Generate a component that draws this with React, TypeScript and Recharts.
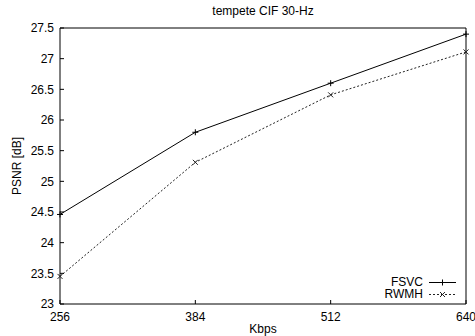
import { LineChart, Line, XAxis, YAxis } from "recharts";

const rates = [256, 384, 512, 640];
const fsvc = [24.46, 25.8, 26.6, 27.4];
const rwmh = [23.45, 25.31, 26.41, 27.11];
const yTicks = [23, 23.5, 24, 24.5, 25, 25.5, 26, 26.5, 27, 27.5];

const data = rates.map((r, i) => ({ rate: r, FSVC: fsvc[i], RWMH: rwmh[i] }));

const FONT = "'Liberation Sans', Arial, Helvetica, sans-serif";
const tick = { fontSize: 12, fill: "#000", fontFamily: FONT };

const Plus = (p: any) => (
  <path
    key={`p${p.index}`}
    d={`M${p.cx - 3},${p.cy}H${p.cx + 3}M${p.cx},${p.cy - 3}V${p.cy + 3}`}
    stroke="#000"
    strokeWidth={1}
  />
);

const Cross = (p: any) => (
  <path
    key={`x${p.index}`}
    d={`M${p.cx - 2.5},${p.cy - 2.5}L${p.cx + 2.5},${p.cy + 2.5}M${p.cx - 2.5},${p.cy + 2.5}L${p.cx + 2.5},${p.cy - 2.5}`}
    stroke="#222"
    strokeWidth={1}
  />
);

function LegendBox() {
  const rows = [
    { name: "FSVC", dash: undefined, mark: "plus" },
    { name: "RWMH", dash: "2 2", mark: "cross" },
  ];
  return (
    <div
      style={{
        position: "absolute",
        left: 340,
        top: 276,
        width: 116,
        fontFamily: FONT,
        fontSize: 12,
        lineHeight: "12px",
      }}
    >
      {rows.map((r) => (
        <div key={r.name} style={{ display: "flex", justifyContent: "flex-end", alignItems: "center", height: 12 }}>
          <span style={{ marginRight: 6 }}>{r.name}</span>
          <svg width={27} height={11}>
            <line x1={0} x2={27} y1={5.5} y2={5.5} stroke={r.mark === "plus" ? "#000" : "#222"} strokeDasharray={r.dash} />
            {r.mark === "plus" ? (
              <path d="M10.5,5.5H16.5M13.5,2.5V8.5" stroke="#000" />
            ) : (
              <path d="M11,3L16,8M11,8L16,3" stroke="#222" />
            )}
          </svg>
        </div>
      ))}
    </div>
  );
}

export default function App() {
  return (
    <div style={{ position: "absolute", left: 0, top: 0, width: 475, height: 336, background: "#fff" }}>
      <div
        style={{
          position: "absolute",
          top: 4,
          left: 60,
          width: 406,
          textAlign: "center",
          fontFamily: FONT,
          fontSize: 12,
        }}
      >
        tempete CIF 30-Hz
      </div>
      <LineChart width={475} height={336} data={data} margin={{ top: 27, right: 8, bottom: 0, left: 0 }}>
        <XAxis
          dataKey="rate"
          type="number"
          domain={[256, 640]}
          ticks={rates}
          tick={tick}
          tickSize={-4}
          tickMargin={12}
          height={32}
          stroke="#000"
          tickLine={{ stroke: "#000" }}
          axisLine={{ stroke: "#000" }}
          label={{ value: "Kbps", position: "insideBottom", offset: 3, style: { ...tick } }}
        />
        <XAxis
          xAxisId="top"
          orientation="top"
          dataKey="rate"
          type="number"
          domain={[256, 640]}
          ticks={rates}
          tick={false}
          tickSize={-4}
          height={1}
          stroke="#000"
        />
        <YAxis
          type="number"
          domain={[23, 27.5]}
          ticks={yTicks}
          tick={tick}
          tickSize={-4}
          tickMargin={10}
          width={60}
          stroke="#000"
          interval={0}
          label={{ value: "PSNR [dB]", angle: -90, position: "insideLeft", offset: 17, style: { ...tick, textAnchor: "middle" } }}
        />
        <YAxis
          yAxisId="right"
          orientation="right"
          type="number"
          domain={[23, 27.5]}
          ticks={yTicks}
          tick={false}
          tickSize={-4}
          width={1}
          stroke="#000"
        />
        <Line
          dataKey="FSVC"
          stroke="#000"
          strokeWidth={1}
          dot={Plus}
          activeDot={false}
          isAnimationActive={false}
        />
        <Line
          dataKey="RWMH"
          stroke="#222"
          strokeWidth={1}
          strokeDasharray="2 2"
          dot={Cross}
          activeDot={false}
          isAnimationActive={false}
        />
      </LineChart>
      <LegendBox />
    </div>
  );
}
